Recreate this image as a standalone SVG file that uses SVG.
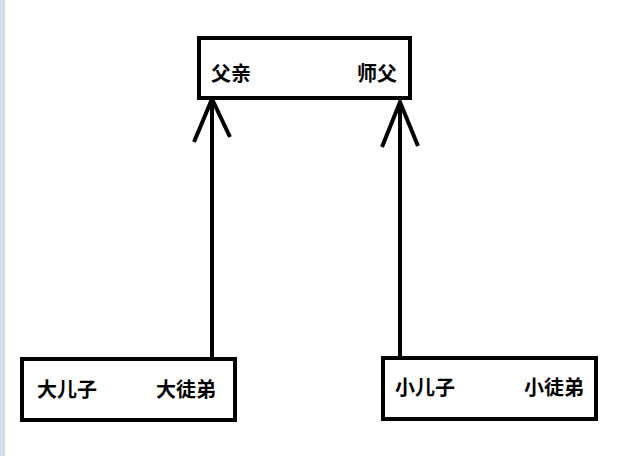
<svg xmlns="http://www.w3.org/2000/svg" width="634" height="456" viewBox="0 0 634 456">
<style>
.box{fill:#fff;stroke:#000;stroke-width:4}
.lbl{font-family:"Noto Sans CJK SC","Noto Sans",sans-serif;font-size:20px;font-weight:bold;fill:#000}
.con{fill:none;stroke:#000;stroke-width:4;stroke-linecap:butt;stroke-linejoin:miter}
</style>
<rect x="0" y="0" width="634" height="456" fill="#fff"/>
<rect x="0" y="0" width="5" height="456" fill="#d3ddea"/>
<g id="connectors">
<line class="con" x1="212" y1="100" x2="212" y2="358"/>
<polyline class="con" points="194,142 212,99 230,137"/>
<line class="con" x1="400" y1="102" x2="400" y2="357"/>
<polyline class="con" points="382,147 400,102 418,146"/>
</g>
<g id="parent">
<rect class="box" x="199" y="38" width="211" height="60"/>
<text class="lbl" x="211" y="81">父亲</text>
<text class="lbl" x="357" y="81">师父</text>
</g>
<g id="elder">
<rect class="box" x="22" y="359" width="213" height="61"/>
<text class="lbl" x="37" y="397">大儿子</text>
<text class="lbl" x="156" y="397">大徒弟</text>
</g>
<g id="younger">
<rect class="box" x="383" y="358" width="213" height="61"/>
<text class="lbl" x="395" y="395">小儿子</text>
<text class="lbl" x="524" y="395">小徒弟</text>
</g>
</svg>
